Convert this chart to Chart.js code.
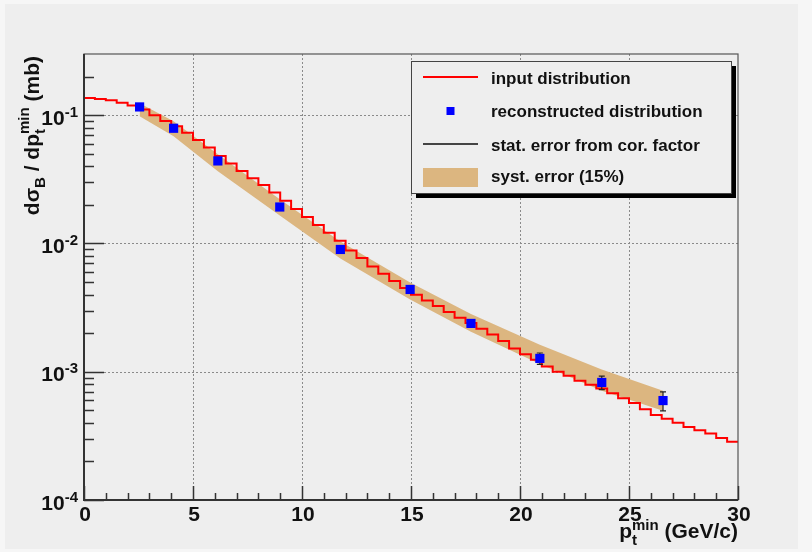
<!DOCTYPE html>
<html>
<head>
<meta charset="utf-8">
<script src="https://cdn.jsdelivr.net/npm/chart.js@4"></script>
<style>
  html, body { margin: 0; padding: 0; background: #f6f6f6; }
  #plot { display: block; }
</style>
</head>
<body>
<canvas id="plot" width="812" height="552"></canvas>
<script>
// input histogram: 60 bins of 0.5 GeV/c from 0 to 30
const binLow = 0;
const binWidth = 0.5;
const inputValues = [
  0.136, 0.134, 0.131, 0.125, 0.119, 0.111, 0.100, 0.090, 0.082, 0.073,
  0.064, 0.056, 0.048, 0.042, 0.0368, 0.0322, 0.0285, 0.0250, 0.0215, 0.0186,
  0.0161, 0.0139, 0.0121, 0.0105, 0.0088, 0.0077, 0.0066, 0.0058, 0.0051, 0.00450,
  0.00398, 0.00360, 0.00326, 0.00292, 0.00264, 0.00240, 0.00216, 0.00195, 0.00174, 0.00152,
  0.00137, 0.00124, 0.00110, 0.00100, 0.00093, 0.00085, 0.00079, 0.00074, 0.00068, 0.00062,
  0.00057, 0.00051, 0.00046, 0.00043, 0.00040, 0.00037, 0.00035, 0.00033, 0.000305, 0.000285
];

// reconstructed points
const recoPt = [2.55, 4.11, 6.14, 8.98, 11.76, 14.96, 17.75, 20.91, 23.75, 26.56];
const recoValues = [0.116, 0.0791, 0.0440, 0.01924, 0.00898, 0.00438, 0.00238, 0.00127, 0.000825, 0.000596];
const statErrors = [0.002, 0.0015, 0.0008, 0.0004, 0.0002, 0.0001, 0.00007, 0.00013, 0.0001, 0.0001];

// systematic band edges at the reconstructed points
const systUpper = [0.124, 0.0898, 0.0496, 0.0221, 0.01037, 0.00496, 0.00282, 0.00162, 0.00104, 0.000711];
const systLower = [0.0982, 0.0686, 0.0365, 0.01655, 0.00764, 0.00365, 0.00205, 0.00115, 0.000711, 0.000496];

const xTicks = [0, 5, 10, 15, 20, 25, 30];
const yDecades = [-4, -3, -2, -1];

const FONT = '"Liberation Sans", Arial, Helvetica, sans-serif';
const panelColor = '#eeeeee';
const bandColor = 'rgb(220,182,128)';

function font(size) {
  return 'bold ' + size + 'px ' + FONT;
}

// rich text: plain runs {t, size, dy} and stacked index pairs {sup, sub, size, supDy, subDy}
function richWidth(ctx, parts) {
  let w = 0;
  for (const p of parts) {
    ctx.font = font(p.size);
    if (p.t !== undefined) {
      w += ctx.measureText(p.t).width;
    } else {
      w += Math.max(ctx.measureText(p.sup || '').width, ctx.measureText(p.sub || '').width);
    }
  }
  return w;
}

function drawRich(ctx, parts, x, y, align) {
  const w = richWidth(ctx, parts);
  let cx = x;
  if (align === 'right') cx = x - w;
  if (align === 'center') cx = x - w / 2;
  ctx.textAlign = 'left';
  ctx.textBaseline = 'alphabetic';
  for (const p of parts) {
    ctx.font = font(p.size);
    if (p.t !== undefined) {
      ctx.fillText(p.t, cx, y + (p.dy || 0));
      cx += ctx.measureText(p.t).width;
    } else {
      if (p.sup) ctx.fillText(p.sup, cx, y + p.supDy);
      if (p.sub) ctx.fillText(p.sub, cx, y + p.subDy);
      cx += Math.max(ctx.measureText(p.sup || '').width, ctx.measureText(p.sub || '').width);
    }
  }
}

const inputPoints = inputValues.map((v, i) => ({ x: binLow + i * binWidth, y: v }));
inputPoints.push({ x: binLow + inputValues.length * binWidth, y: inputValues[inputValues.length - 1] });

const recoPoints = recoPt.map((x, i) => ({ x: x, y: recoValues[i] }));
const upperPoints = recoPt.map((x, i) => ({ x: x, y: systUpper[i] }));
const lowerPoints = recoPt.map((x, i) => ({ x: x, y: systLower[i] }));

const background = {
  id: 'background',
  beforeDraw(chart) {
    const ctx = chart.ctx;
    ctx.save();
    ctx.fillStyle = '#f6f6f6';
    ctx.fillRect(0, 0, chart.width, chart.height);
    ctx.fillStyle = panelColor;
    ctx.fillRect(5, 4, 793, 545);
    ctx.restore();
  }
};

// dotted grid at the labelled ticks, behind the data
const grid = {
  id: 'grid',
  beforeDatasetsDraw(chart) {
    const { ctx, chartArea: a, scales: { x, y } } = chart;
    ctx.save();
    ctx.strokeStyle = '#8a8a8a';
    ctx.lineWidth = 1;
    ctx.setLineDash([2, 2]);
    ctx.beginPath();
    xTicks.slice(1, -1).forEach(v => {
      const px = Math.round(x.getPixelForValue(v)) + 0.5;
      ctx.moveTo(px, a.top);
      ctx.lineTo(px, a.bottom);
    });
    yDecades.slice(1).forEach(d => {
      const py = Math.round(y.getPixelForValue(Math.pow(10, d))) + 0.5;
      ctx.moveTo(a.left, py);
      ctx.lineTo(a.right, py);
    });
    ctx.stroke();
    ctx.restore();
  }
};

// stat. errors drawn just under the markers
const errorBars = {
  id: 'errorBars',
  beforeDatasetDraw(chart, args) {
    if (args.index !== 0) return;
    const { ctx, scales: { x, y } } = chart;
    ctx.save();
    ctx.strokeStyle = '#222';
    ctx.lineWidth = 1.2;
    recoPt.forEach((v, i) => {
      const px = x.getPixelForValue(v);
      const top = y.getPixelForValue(recoValues[i] + statErrors[i]);
      const bot = y.getPixelForValue(recoValues[i] - statErrors[i]);
      ctx.beginPath();
      ctx.moveTo(px, top);
      ctx.lineTo(px, bot);
      ctx.moveTo(px - 3, top);
      ctx.lineTo(px + 3, top);
      ctx.moveTo(px - 3, bot);
      ctx.lineTo(px + 3, bot);
      ctx.stroke();
    });
    ctx.restore();
  }
};

// frame, tick marks, tick labels and axis titles
const axes = {
  id: 'axes',
  afterDatasetsDraw(chart) {
    const { ctx, chartArea: a, scales: { x, y } } = chart;
    ctx.save();
    ctx.strokeStyle = '#555';
    ctx.lineWidth = 1.2;
    ctx.strokeRect(a.left, a.top, a.right - a.left, a.bottom - a.top);

    ctx.strokeStyle = '#333';
    ctx.lineWidth = 2;
    ctx.beginPath();
    ctx.moveTo(a.left, a.top);
    ctx.lineTo(a.left, a.bottom);
    ctx.lineTo(a.right, a.bottom);
    ctx.stroke();

    // log ticks on the y axis
    ctx.lineWidth = 1.5;
    ctx.beginPath();
    yDecades.forEach(d => {
      for (let m = 1; m <= 9; m++) {
        const v = m * Math.pow(10, d);
        if (v > y.max) break;
        const py = Math.round(y.getPixelForValue(v)) + 0.5;
        ctx.moveTo(a.left, py);
        ctx.lineTo(a.left + (m === 1 ? 20 : 10), py);
      }
    });
    // linear ticks on the x axis
    for (let v = x.min; v <= x.max; v++) {
      const px = Math.round(x.getPixelForValue(v)) + 0.5;
      ctx.moveTo(px, a.bottom);
      ctx.lineTo(px, a.bottom - (v % 5 === 0 ? 14 : 7));
    }
    ctx.stroke();

    ctx.fillStyle = '#111';
    xTicks.forEach(v => {
      drawRich(ctx, [{ t: String(v), size: 21 }], x.getPixelForValue(v) + 1, a.bottom + 20.5, 'center');
    });
    yDecades.forEach(d => {
      const py = y.getPixelForValue(Math.pow(10, d));
      drawRich(ctx, [{ t: '10', size: 21 }, { t: String(d), size: 15, dy: -8 }], a.left - 6, py + 9.5, 'right');
    });

    drawRich(ctx, [
      { t: 'p', size: 21 },
      { sup: 'min', sub: 't', size: 15, supDy: -8, subDy: 7 },
      { t: ' (GeV/c)', size: 21 }
    ], a.right, 538, 'right');

    ctx.translate(39, 0);
    ctx.rotate(-Math.PI / 2);
    drawRich(ctx, [
      { t: 'd\u03C3', size: 21 },
      { t: 'B', size: 15, dy: 6 },
      { t: ' / dp', size: 21 },
      { sup: 'min', sub: 't', size: 15, supDy: -10, subDy: 6 },
      { t: ' (mb)', size: 21 }
    ], -56, 0, 'right');
    ctx.restore();
  }
};

// boxed legend with a drop shadow
const legendBox = {
  id: 'legendBox',
  afterDraw(chart) {
    const ctx = chart.ctx;
    const bx = 411.5, by = 61.5, bw = 320, bh = 132;
    ctx.save();
    ctx.fillStyle = '#000';
    ctx.fillRect(bx + 4.5, by + bh + 0.5, bw, 4);
    ctx.fillRect(bx + bw + 0.5, by + 4.5, 4, bh);
    ctx.fillStyle = panelColor;
    ctx.fillRect(bx, by, bw, bh);
    ctx.strokeStyle = '#444';
    ctx.lineWidth = 1;
    ctx.strokeRect(bx, by, bw, bh);

    ctx.lineWidth = 2;
    ctx.strokeStyle = '#ff0000';
    ctx.beginPath();
    ctx.moveTo(423, 77);
    ctx.lineTo(478, 77);
    ctx.stroke();

    ctx.fillStyle = '#0000ff';
    ctx.fillRect(446.5, 107, 8, 8);

    ctx.strokeStyle = '#444';
    ctx.beginPath();
    ctx.moveTo(423, 144);
    ctx.lineTo(478, 144);
    ctx.stroke();

    ctx.fillStyle = bandColor;
    ctx.fillRect(423, 168, 55, 19);

    ctx.fillStyle = '#111';
    const labels = ['input distribution', 'reconstructed distribution', 'stat. error from cor. factor', 'syst. error (15%)'];
    const rows = [83.5, 117, 150.5, 182];
    labels.forEach((s, i) => drawRich(ctx, [{ t: s, size: 17 }], 491, rows[i], 'left'));
    ctx.restore();
  }
};

new Chart(document.getElementById('plot'), {
  type: 'line',
  data: {
    datasets: [
      {
        label: 'reconstructed distribution',
        data: recoPoints,
        showLine: false,
        pointStyle: 'rect',
        pointRadius: 6.5,
        pointBorderWidth: 0,
        pointBackgroundColor: '#0000ff',
        order: 0
      },
      {
        label: 'input distribution',
        data: inputPoints,
        stepped: 'before',
        borderColor: '#ff0000',
        borderWidth: 2,
        pointRadius: 0,
        fill: false,
        order: 1
      },
      {
        label: 'syst. error (15%)',
        data: upperPoints,
        borderWidth: 0,
        pointRadius: 0,
        backgroundColor: bandColor,
        fill: '+1',
        order: 2
      },
      {
        label: 'syst. lower',
        data: lowerPoints,
        borderWidth: 0,
        pointRadius: 0,
        fill: false,
        order: 3
      }
    ]
  },
  options: {
    responsive: false,
    animation: false,
    devicePixelRatio: 1,
    layout: { padding: { left: 84, right: 74, top: 54, bottom: 52 } },
    scales: {
      x: { type: 'linear', min: 0, max: 30, display: false },
      y: { type: 'logarithmic', min: 1e-4, max: 0.3, display: false }
    },
    plugins: {
      legend: { display: false },
      tooltip: { enabled: false }
    }
  },
  plugins: [background, grid, errorBars, axes, legendBox]
});
</script>
</body>
</html>
